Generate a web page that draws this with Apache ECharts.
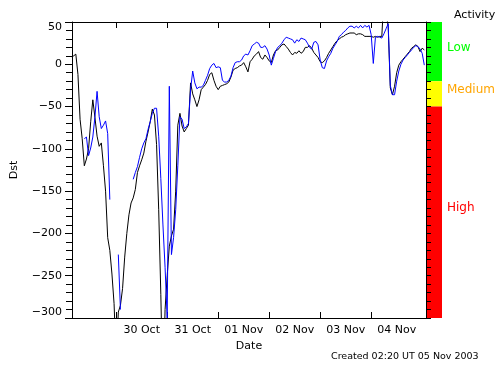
<!DOCTYPE html>
<html><head><meta charset="utf-8">
<script src="https://cdn.jsdelivr.net/npm/echarts@6/dist/echarts.min.js"></script>
<style>html,body{margin:0;padding:0;background:#fff}#c{width:500px;height:365px}</style>
</head><body><div id="c"></div>
<script>
// Hourly Dst samples; x = hours after 29 Oct 2003 00:00 UT, first sample at START_HOUR
const START_HOUR = 27;
const dstBlack = [
  9, 10, 12, -12, -65, -88, -120, -112, -100, -68, -42, -63, -85, -97, -93, -120, -150, -205, -220, -248, -283,
  -350, -293, -285, -265, -228, -200, -178, -164, -158, -148, -128, -120, -113, -105, -91, -80, -68, -53, -60,
  -95, -172, -272, -390, -290, -250, -215, -203, -195, -150, -72, -58, -73, -80, -76, -72, -22, -35, -42, -50,
  -42, -30, -27, -24, -19, -12, -10, -19, -26, -30, -26, -25, -24, -23, -21, -15, -7, -5, -4, -2,
  -1, 2, -3, -9, 3, 6, 10, 12, 15, 8, 6, 11, 8, 4, 2, 11, 16, 17, 20, 23,
  24, 21, 18, 14, 11, 14, 13, 16, 13, 15, 20, 20, 22, 19, 14, 11, 8, 3, 2, 4,
  8, 13, 17, 21, 25, 28, 30, 32, 33, 35, 36, 37, 37, 37, 35, 36, 36, 35, 33, 33,
  33, 33, 32, 33, 32, 33, 33, 80, 60, 45, -28, -36, -26, -10, -1, 3, 6, 9, 12, 15,
  19, 21, 23, 21, 15, 19, 17
];
const dstBlue = [
  null, null, null, null, null, null, -88, -86, -108, -99, -86, -62, -32, -62, -76, -72, -67, -82, -160, null, null,
  null, -225, -290, null, null, null, null, null, -136, -128, -121, -110, -100, -93, -88, -77, -68, -58, -52,
  -52, -85, -135, -190, -240, -300, -26, -225, -205, -172, -120, -62, -65, -76, -74, -70, -30, -8, -22, -29,
  -27, -27, -25, -19, -13, -5, -1, 1, -4, -3, -4, -19, -21, -21, -19, -14, -4, 2, 3, 3,
  5, 10, 12, 11, 16, 22, 24, 26, 25, 20, 20, 22, 18, 11, -1, 7, 15, 20, 22, 25,
  29, 32, 31, 30, 29, 25, 29, 27, 31, 30, 29, 25, 20, 18, 26, 27, 23, 5, -4, -5,
  4, 9, 13, 19, 23, 27, 33, 35, 38, 40, 43, 45, 45, 43, 45, 43, 46, 43, 46, 44,
  46, 35, 1, 32, 33, 32, 31, 36, 42, 48, -25, -36, -36, -20, -8, 0, 5, 8, 11, 14,
  17, 20, 22, 21, 18, 13, -1
];
const dayTickHours = [48, 72, 96, 120, 144, 168];
const dayLabelHours = [60, 84, 108, 132, 156, 180];
const dayLabels = ['30 Oct', '31 Oct', '01 Nov', '02 Nov', '03 Nov', '04 Nov'];
const activityNames = ['Low', 'Medium', 'High'];
const activityFrom = [-20, -50, -300];
const activityTo = [50, -20, -50];
const createdText = 'Created 02:20 UT 05 Nov 2003';

const X_MIN = 27.2, X_MAX = 193.8, Y_MIN = -300, Y_MAX = 50;
const FONT = 'DejaVu Sans';
const bandColors = ['#00ff00', '#ffff00', '#ff0000'];
const bandTextColors = ['#00ff00', '#ffa500', '#ff0000'];

const toXY = arr => arr.map((v, i) => [START_HOUR + i, v]);

const chart = echarts.init(document.getElementById('c'), null, {renderer: 'canvas'});
chart.setOption({
  animation: false,
  backgroundColor: '#fff',
  title: [
    {text: 'Activity', left: 454, top: 10, padding: 0,
     textStyle: {fontFamily: FONT, fontSize: 11, fontWeight: 'normal', color: '#000'}},
    {text: createdText, left: 331, top: 352, padding: 0,
     textStyle: {fontFamily: FONT, fontSize: 9.5, fontWeight: 'normal', color: '#000'}}
  ],
  grid: [
    {left: 72, right: 74, top: 22, bottom: 47},
    {left: 427, width: 15, top: 22, bottom: 47}
  ],
  xAxis: [
    {gridIndex: 0, type: 'value', min: X_MIN, max: X_MAX, position: 'bottom',
     name: 'Date', nameLocation: 'middle', nameGap: 22,
     nameTextStyle: {fontFamily: FONT, fontSize: 11, color: '#000'},
     axisLine: {show: true, onZero: false, lineStyle: {color: '#000', width: 1}},
     axisTick: {show: true, inside: true, length: 6, customValues: dayTickHours, lineStyle: {color: '#000'}},
     axisLabel: {show: true, customValues: dayLabelHours, margin: 7,
       fontFamily: FONT, fontSize: 11, color: '#000',
       formatter: v => dayLabels[dayLabelHours.indexOf(v)] || ''},
     splitLine: {show: false}},
    {gridIndex: 0, type: 'value', min: X_MIN, max: X_MAX, position: 'top',
     axisLine: {show: true, onZero: false, lineStyle: {color: '#000', width: 1}},
     axisTick: {show: true, inside: true, length: 6, customValues: dayTickHours, lineStyle: {color: '#000'}},
     axisLabel: {show: false}, splitLine: {show: false}},
    {gridIndex: 1, type: 'value', min: 0, max: 1, show: false}
  ],
  yAxis: [
    {gridIndex: 0, type: 'value', min: Y_MIN, max: Y_MAX, interval: 50, position: 'left',
     name: 'Dst', nameLocation: 'middle', nameGap: 52, nameRotate: 90,
     nameTextStyle: {fontFamily: FONT, fontSize: 11, color: '#000'},
     axisLine: {show: true, onZero: false, lineStyle: {color: '#000', width: 1}},
     axisTick: {show: true, inside: false, length: 7, lineStyle: {color: '#000'}},
     minorTick: {show: true, splitNumber: 5, length: 6, lineStyle: {color: '#000'}},
     axisLabel: {show: true, margin: 10, fontFamily: FONT, fontSize: 11, color: '#000',
       verticalAlignMaxLabel: 'top', verticalAlignMinLabel: 'bottom',
       formatter: v => (v < 0 ? '\u2212' + Math.abs(v) : String(v))},
     splitLine: {show: false}, minorSplitLine: {show: false}},
    {gridIndex: 0, type: 'value', min: Y_MIN, max: Y_MAX, interval: 50, position: 'right', z: 10,
     axisLine: {show: true, onZero: false, lineStyle: {color: '#000', width: 1}},
     axisTick: {show: true, inside: false, length: 5, lineStyle: {color: '#000'}},
     minorTick: {show: true, splitNumber: 5, length: 5, lineStyle: {color: '#000'}},
     axisLabel: {show: false}, splitLine: {show: false}, minorSplitLine: {show: false}},
    {gridIndex: 1, type: 'value', min: Y_MIN, max: Y_MAX, show: false}
  ],
  series: [
    {type: 'line', xAxisIndex: 2, yAxisIndex: 2, z: -1, silent: true,
     data: [[0, Y_MIN]], symbol: 'none', lineStyle: {width: 0},
     markArea: {silent: true,
       data: activityNames.map((n, i) => [
         {name: n, xAxis: 0, yAxis: activityTo[i],
          itemStyle: {color: bandColors[i], opacity: 1},
          label: {show: true, position: 'right', distance: 5, offset: [0, -4],
            fontFamily: FONT, fontSize: 12, color: bandTextColors[i]}},
         {xAxis: 1, yAxis: activityFrom[i]}
       ])}},
    {type: 'line', name: 'Dst', xAxisIndex: 0, yAxisIndex: 0, data: toXY(dstBlack),
     symbol: 'none', clip: true, lineStyle: {color: '#000', width: 1}, z: 3},
    {type: 'line', name: 'Dst est', xAxisIndex: 0, yAxisIndex: 0, data: toXY(dstBlue),
     symbol: 'none', clip: true, connectNulls: false, lineStyle: {color: '#0000ff', width: 1}, z: 4}
  ]
});
</script></body></html>
